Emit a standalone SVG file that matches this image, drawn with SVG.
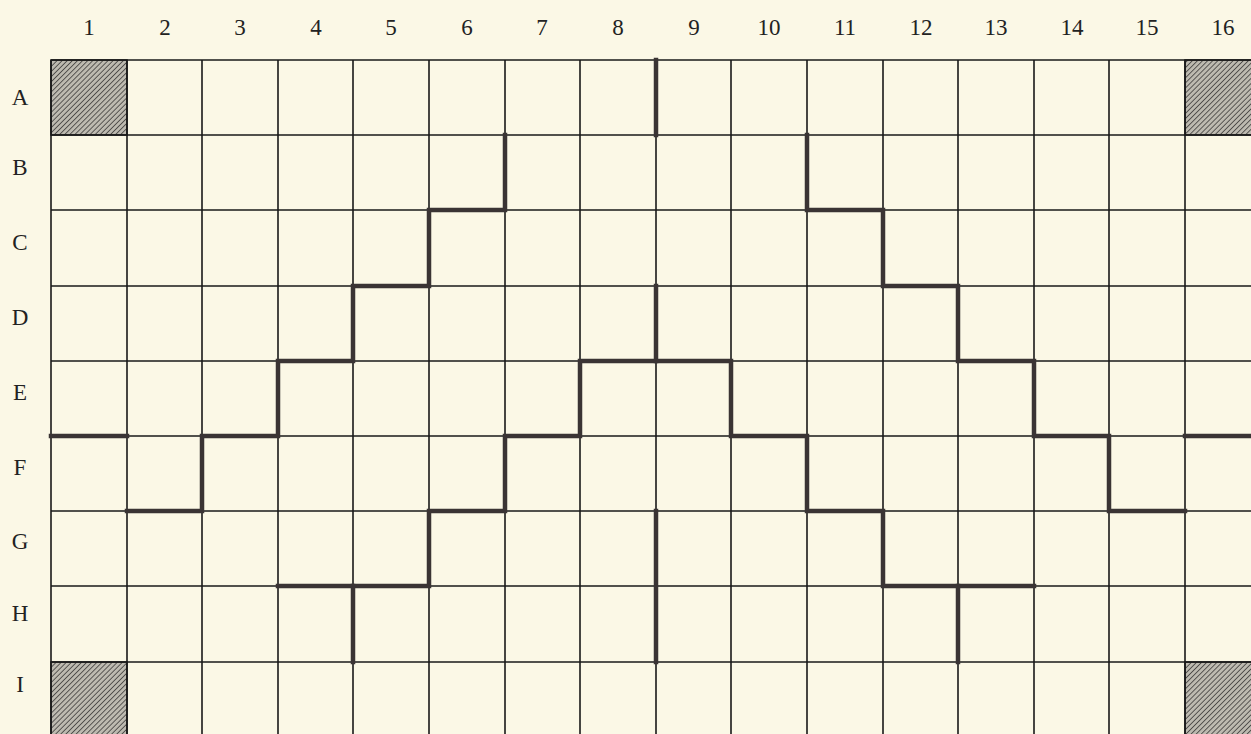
<svg xmlns="http://www.w3.org/2000/svg" width="1251" height="734" viewBox="0 0 1251 734">
<style>
.lbl{font-family:"Liberation Serif","DejaVu Serif",serif;font-size:23px;fill:#222;text-anchor:middle}
.grid{stroke:#1a1a1a;stroke-width:1.6;fill:none}
.wall{stroke:#3a3434;stroke-width:4.5;fill:none;stroke-linecap:square;stroke-linejoin:miter}
.hatch{fill:url(#h);stroke:#1a1a1a;stroke-width:1.6}
</style>
<defs>
<pattern id="h" width="3.6" height="3.6" patternUnits="userSpaceOnUse" patternTransform="rotate(45)">
<rect width="3.6" height="3.6" fill="#bdbab0"/>
<line x1="0" y1="0" x2="0" y2="3.6" stroke="#3e3c3c" stroke-width="1.6"/>
</pattern>
</defs>
<rect width="1251" height="734" fill="#fbf8e6"/>
<g id="labels">
<text class="lbl" x="89" y="35">1</text>
<text class="lbl" x="165" y="35">2</text>
<text class="lbl" x="240" y="35">3</text>
<text class="lbl" x="316" y="35">4</text>
<text class="lbl" x="391" y="35">5</text>
<text class="lbl" x="467" y="35">6</text>
<text class="lbl" x="542" y="35">7</text>
<text class="lbl" x="618" y="35">8</text>
<text class="lbl" x="694" y="35">9</text>
<text class="lbl" x="769" y="35">10</text>
<text class="lbl" x="845" y="35">11</text>
<text class="lbl" x="921" y="35">12</text>
<text class="lbl" x="996" y="35">13</text>
<text class="lbl" x="1072" y="35">14</text>
<text class="lbl" x="1147" y="35">15</text>
<text class="lbl" x="1223" y="35">16</text>
<text class="lbl" x="20" y="105">A</text>
<text class="lbl" x="20" y="175">B</text>
<text class="lbl" x="20" y="250">C</text>
<text class="lbl" x="20" y="325">D</text>
<text class="lbl" x="20" y="400">E</text>
<text class="lbl" x="20" y="475">F</text>
<text class="lbl" x="20" y="549">G</text>
<text class="lbl" x="20" y="621">H</text>
<text class="lbl" x="20" y="692">I</text>
</g>
<g id="corners">
<rect class="hatch" x="51" y="60" width="76" height="75"/>
<rect class="hatch" x="1185" y="60" width="76" height="75"/>
<rect class="hatch" x="51" y="662" width="76" height="80"/>
<rect class="hatch" x="1185" y="662" width="76" height="80"/>
</g>
<g id="grid" class="grid">
<path d="M51,60H1261M51,135H1261M51,210H1261M51,286H1261M51,361H1261M51,436H1261M51,511H1261M51,586H1261M51,662H1261"/>
<path d="M51,60V740M127,60V740M202,60V740M278,60V740M353,60V740M429,60V740M505,60V740M580,60V740M656,60V740M731,60V740M807,60V740M883,60V740M958,60V740M1034,60V740M1109,60V740M1185,60V740"/>
</g>
<g id="connectors" class="wall">
<path d="M656,60V135"/>
<path d="M505,135V210H429V286H353V361H278V436H202V511H127"/>
<path d="M51,436H127"/>
<path d="M807,135V210H883V286H958V361H1034V436H1109V511H1185"/>
<path d="M1185,436H1253"/>
<path d="M656,286V361"/>
<path d="M278,586H429V511H505V436H580V361H731V436H807V511H883V586H1034"/>
<path d="M353,586V662"/>
<path d="M958,586V662"/>
<path d="M656,511V662"/>
</g>
</svg>
